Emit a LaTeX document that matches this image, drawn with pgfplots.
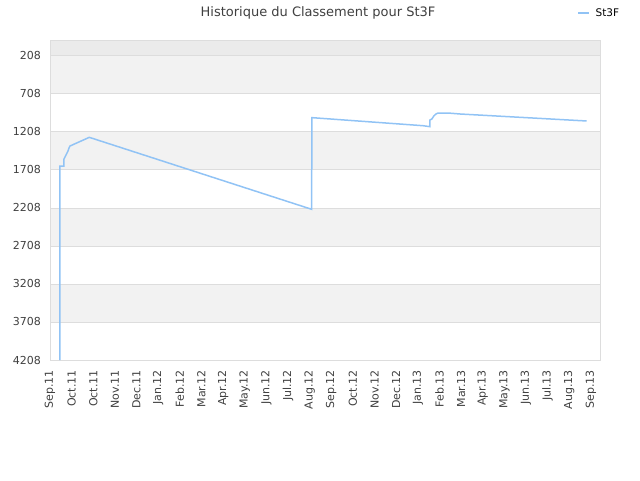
\documentclass[border=0pt]{standalone}
\usepackage{pgfplots}
\pgfplotsset{compat=1.18}
\usepackage{fontspec}
\setmainfont{DejaVu Sans}
\definecolor{linecol}{RGB}{145,195,245}
\definecolor{bandA}{RGB}{242,242,242}
\definecolor{bandTop}{RGB}{235,235,235}
\definecolor{gridc}{RGB}{221,221,221}
\definecolor{txt}{RGB}{64,64,64}
\begin{document}
\begin{tikzpicture}
\begin{axis}[
  set layers,
  at={(50pt,120pt)}, anchor=south west,
  scale only axis, width=550pt, height=320pt,
  xmin=0, xmax=25.42, ymin=0, ymax=4208,
  y dir=reverse,
  ytick={208,708,1208,1708,2208,2708,3208,3708,4208},
  xtick={0,...,25},
  xticklabels={Sep.11,Oct.11,Oct.11,Nov.11,Dec.11,Jan.12,Feb.12,Mar.12,Apr.12,May.12,Jun.12,Jul.12,Aug.12,Sep.12,Oct.12,Nov.12,Dec.12,Jan.13,Feb.13,Mar.13,Apr.13,May.13,Jun.13,Jul.13,Aug.13,Sep.13},
  x tick label style={rotate=90, anchor=east, font=\fontsize{11}{13}\selectfont, text=txt, xshift=-8pt},
  y tick label style={font=\fontsize{11}{13}\selectfont, text=txt, xshift=-7pt},
  /pgf/number format/assume math mode=true,
  yticklabel={\pgfmathprintnumber[fixed,1000 sep={}]{\tick}},
  scaled y ticks=false,
  major tick length=0pt,
  xtick style={draw=none}, ytick style={draw=none},
  ymajorgrids, grid style={draw=gridc, line width=0.8pt},
  axis line style={draw=gridc, line width=0.8pt},
  tick label style={inner sep=2pt},
  legend style={at={(0.959,1.084)}, anchor=west, draw=none, fill=none, inner sep=0pt,
     font=\fontsize{10.5}{12}\selectfont, text=black, legend cell align=left,
     nodes={inner xsep=5.5pt}},
  legend image code/.code={\draw[#1, line width=1.5pt] (0pt,0pt) -- (11pt,0pt);},
]
\begin{pgfonlayer}{axis background}
\fill[bandTop] (axis cs:0,0) rectangle (axis cs:25.42,208);
\fill[bandA] (axis cs:0,208) rectangle (axis cs:25.42,708);
\fill[bandA] (axis cs:0,1208) rectangle (axis cs:25.42,1708);
\fill[bandA] (axis cs:0,2208) rectangle (axis cs:25.42,2708);
\fill[bandA] (axis cs:0,3208) rectangle (axis cs:25.42,3708);
\end{pgfonlayer}
\addplot[linecol, line width=1.5pt, mark=none] coordinates {
(0.462,4208) (0.462,1657) (0.647,1657) (0.647,1565) (0.739,1512) (0.832,1460) (0.878,1420) (0.924,1394)
(1.816,1280) (12.09,2226) (12.107,1022) (12.15,1022) (17.24,1127) (17.56,1140)
(17.56,1052) (17.65,1039) (17.74,999) (17.84,973) (17.93,960) (18.39,960) (18.95,973) (24.80,1065)
};
\addlegendentry{St3F}
\end{axis}
\node[font=\fontsize{13}{15}\selectfont, text=txt] at (318pt,467pt) {Historique du Classement pour St3F};
\pgfresetboundingbox
\path (0pt,0pt) rectangle (640pt,480pt);
\end{tikzpicture}
\end{document}
